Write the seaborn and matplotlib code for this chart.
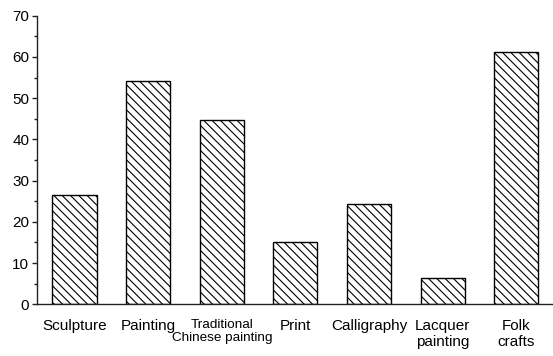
import matplotlib
matplotlib.use("Agg")
import matplotlib.pyplot as plt
import seaborn as sns
import pandas as pd
from matplotlib.ticker import MultipleLocator

categories = ["Sculpture", "Painting", "Traditional\nChinese painting", "Print",
              "Calligraphy", "Lacquer\npainting", "Folk\ncrafts"]
values = [26.4, 54.2, 44.6, 15.1, 24.3, 6.5, 61.1]

sns.set_theme(style="ticks")
plt.rcParams["font.family"] = ["Liberation Sans", "DejaVu Sans"]
plt.rcParams["hatch.linewidth"] = 0.8

df = pd.DataFrame({"category": categories, "value": values})

fig = plt.figure(figsize=(5.53, 3.56), dpi=100)
ax = fig.add_axes([0.0669, 0.1452, 0.9331, 0.8107])

sns.barplot(data=df, x="category", y="value", color="white", width=0.6,
            edgecolor="black", linewidth=1.0, saturation=1, ax=ax)
for p in ax.patches:
    p.set_facecolor("white")
    p.set_hatch("\\\\\\\\")
    p.set_edgecolor("black")

ax.set_xlim(-0.51, 6.5)
ax.set_ylim(0, 70)
ax.yaxis.set_major_locator(MultipleLocator(10))
ax.yaxis.set_minor_locator(MultipleLocator(5))
ax.set_xlabel("")
ax.set_ylabel("")

for side in ("top", "right"):
    ax.spines[side].set_visible(False)
for side in ("left", "bottom"):
    ax.spines[side].set_color("#222222")
    ax.spines[side].set_linewidth(1.0)

ax.tick_params(axis="y", which="major", direction="out", length=3.5, width=1,
               color="#222222", labelsize=11, pad=2, labelcolor="black")
ax.tick_params(axis="y", which="minor", direction="out", length=2, width=1,
               color="#222222")
ax.tick_params(axis="x", which="both", length=0, labelsize=11, pad=10.5,
               labelcolor="black")

for lbl in ax.get_xticklabels():
    lbl.set_linespacing(1.15)
    if lbl.get_text().startswith("Traditional"):
        lbl.set_fontsize(9.7)

fig.savefig("out.png", dpi=100)
